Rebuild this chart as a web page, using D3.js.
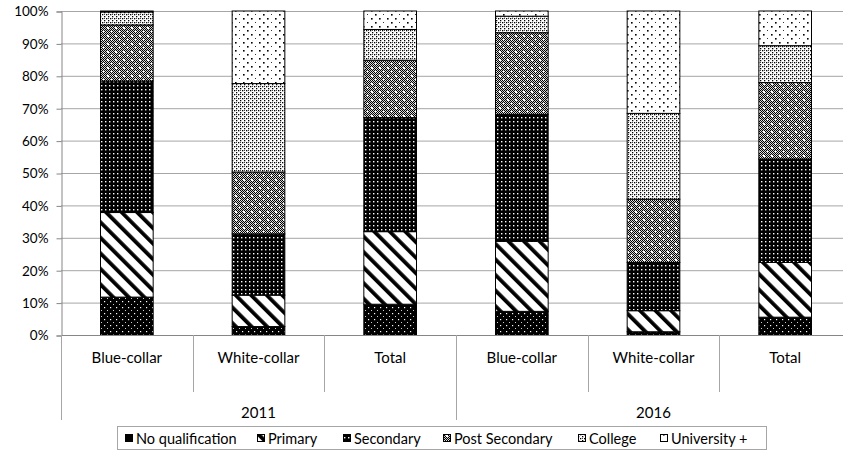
<!DOCTYPE html>
<html><head><meta charset="utf-8">
<script src="https://cdn.jsdelivr.net/npm/d3@7"></script>
<style>body{margin:0;background:#fff}svg{display:block}text{font-family:Lato,"Open Sans",sans-serif;fill:#000}</style>
</head><body><svg id="c" width="843" height="459"></svg>
<script>
const years = ["2011", "2016"];
const groups = ["Blue-collar", "White-collar", "Total"];
const series = ["No qualification", "Primary", "Secondary", "Post Secondary", "College", "University +"];
// shares in % per category (order: 2011 Blue, 2011 White, 2011 Total, 2016 Blue, 2016 White, 2016 Total)
const noQualification = [11.7, 2.6, 9.5, 7.3, 1.0, 5.5];
const primary        = [26.1, 9.7, 22.4, 21.6, 6.5, 16.9];
const secondary      = [40.6, 18.9, 35.2, 39.2, 14.9, 31.9];
const postSecondary  = [17.3, 19.1, 17.7, 25.2, 19.5, 23.6];
const college        = [4.0, 27.3, 9.5, 5.1, 26.5, 11.4];
const university     = [0.3, 22.4, 5.7, 1.6, 31.6, 10.7];
const yTicks = [0, 10, 20, 30, 40, 50, 60, 70, 80, 90, 100];

const seriesValues = [noQualification, primary, secondary, postSecondary, college, university];
const cats = [];
years.forEach(yr => groups.forEach(g => cats.push({year: yr, group: g, key: yr + "|" + g})));
const rows = cats.map((c, i) => {
  const r = {key: c.key};
  series.forEach((s, j) => r[s] = seriesValues[j][i]);
  return r;
});

const svg = d3.select("#c");
const mLeft = 61, mTop = 11, mBottom = 335, plotRight = 851;
const x = d3.scaleBand().domain(cats.map(c => c.key)).range([mLeft, plotRight]).paddingInner(0).paddingOuter(0);
const barW = x.bandwidth() * 0.4;
const y = d3.scaleLinear().domain([0, 100]).range([mBottom, mTop]);

// patterns
const defs = svg.append("defs");
const ids = ["pNoQual", "pPrimary", "pSecondary", "pPost", "pCollege", "pUniv"];
function pat(id, w, h) {
  return defs.append("pattern").attr("id", id).attr("patternUnits", "userSpaceOnUse")
    .attr("width", w).attr("height", h);
}
let p = pat(ids[0], 6, 6);
p.append("rect").attr("width", 6).attr("height", 6).attr("fill", "#000");
p.append("rect").attr("x", 2).attr("y", 1).attr("width", 1.2).attr("height", 1.2).attr("fill", "#fff");
p.append("rect").attr("x", 5).attr("y", 4).attr("width", 1).attr("height", 0.8).attr("fill", "#fff");
p = pat(ids[1], 11, 11).attr("patternTransform", "rotate(-45)");
p.append("rect").attr("width", 11).attr("height", 11).attr("fill", "#fff");
p.append("rect").attr("x", 0).attr("y", 0).attr("width", 3.8).attr("height", 11).attr("fill", "#000");
p = pat(ids[2], 4, 4);
p.append("rect").attr("width", 4).attr("height", 4).attr("fill", "#000");
p.append("rect").attr("x", 1).attr("y", 1).attr("width", 1.4).attr("height", 1.4).attr("fill", "#fff");
p = pat(ids[3], 8, 8);
p.append("rect").attr("width", 8).attr("height", 8).attr("fill", "#fff");
for (let i = 0; i < 8; i++) for (let j = 0; j < 8; j++) {
  if ((i + j) % 2 === 0) p.append("rect").attr("x", i).attr("y", j).attr("width", 1.1).attr("height", 1.1).attr("fill", "#000");
}
p.append("rect").attr("x", 3).attr("y", 3).attr("width", 2).attr("height", 2).attr("fill", "#fff");
p.append("rect").attr("x", 7).attr("y", 7).attr("width", 1).attr("height", 1).attr("fill", "#fff");
p = pat(ids[4], 4, 4);
p.append("rect").attr("width", 4).attr("height", 4).attr("fill", "#fff");
p.append("rect").attr("x", 0).attr("y", 0).attr("width", 1.3).attr("height", 1.3).attr("fill", "#000");
p.append("rect").attr("x", 2).attr("y", 2).attr("width", 1.3).attr("height", 1.3).attr("fill", "#000");
p.append("rect").attr("x", 0).attr("y", 2).attr("width", 1).attr("height", 1).attr("fill", "#444");
p = pat(ids[5], 16, 8);
p.append("rect").attr("width", 16).attr("height", 8).attr("fill", "#fff");
p.append("rect").attr("x", 3).attr("y", 2).attr("width", 1.6).attr("height", 1.6).attr("fill", "#000");
p.append("rect").attr("x", 11).attr("y", 2).attr("width", 1.6).attr("height", 1.6).attr("fill", "#000");
p.append("rect").attr("x", 7).attr("y", 6).attr("width", 1.6).attr("height", 1.6).attr("fill", "#000");
p.append("rect").attr("x", 15).attr("y", 6).attr("width", 1.4).attr("height", 0.8).attr("fill", "#000");

// gridlines
svg.append("g").selectAll("line").data(yTicks.filter(t => t > 0)).join("line")
  .attr("x1", mLeft).attr("x2", plotRight).attr("y1", d => y(d) + 0.5).attr("y2", d => y(d) + 0.5)
  .attr("stroke", "#a6a6a6").attr("stroke-width", 1);

// y axis
const yAxis = d3.axisLeft(y).tickValues(yTicks).tickFormat(d => d + "%").tickSize(5).tickPadding(8);
const ya = svg.append("g").attr("transform", `translate(${mLeft + 0.5},0.5)`).call(yAxis);
ya.select(".domain").attr("stroke", "#868686");
ya.selectAll(".tick line").attr("stroke", "#868686");
ya.selectAll(".tick text").attr("font-size", 13.5).attr("font-family", "Lato").attr("fill", "#000");

// bars
const stack = d3.stack().keys(series)(rows);
svg.append("g").selectAll("g").data(stack).join("g")
  .attr("fill", (d, i) => `url(#${ids[i]})`)
  .selectAll("rect").data(d => d).join("rect")
  .attr("x", d => x(d.data.key) + (x.bandwidth() - barW) / 2)
  .attr("width", barW)
  .attr("y", d => y(d[1]))
  .attr("height", d => y(d[0]) - y(d[1]))
  .attr("stroke", "#000").attr("stroke-width", 1);

// x axis line
svg.append("line").attr("x1", mLeft).attr("x2", plotRight).attr("y1", mBottom + 0.5).attr("y2", mBottom + 0.5)
  .attr("stroke", "#868686");

// category separators
const catEdges = cats.map(c => x(c.key)).concat([plotRight]);
svg.append("g").selectAll("line").data(catEdges).join("line")
  .attr("x1", d => Math.round(d) + 0.5).attr("x2", d => Math.round(d) + 0.5)
  .attr("y1", mBottom).attr("y2", (d, i) => (i % 3 === 0) ? 420 : 392)
  .attr("stroke", "#a6a6a6");

// category labels
svg.append("g").selectAll("text").data(cats).join("text")
  .attr("x", d => x(d.key) + x.bandwidth() / 2).attr("y", 363)
  .attr("text-anchor", "middle").attr("font-size", 15).text(d => d.group);

// year labels
svg.append("g").selectAll("text").data(years).join("text")
  .attr("x", (d, i) => x(d + "|" + groups[0]) + x.bandwidth() * 1.5).attr("y", 418)
  .attr("text-anchor", "middle").attr("font-size", 15).text(d => d);

// legend
const legX = [125, 257, 343, 443, 578, 660];
const lg = svg.append("g");
lg.append("rect").attr("x", 117.5).attr("y", 426.5).attr("width", 649).attr("height", 23)
  .attr("fill", "#fff").attr("stroke", "#a6a6a6");
const items = lg.selectAll("g").data(series).join("g")
  .attr("transform", (d, i) => `translate(${legX[i]},0)`);
items.append("rect").attr("x", 0.5).attr("y", 434.5).attr("width", 7).attr("height", 7)
  .attr("fill", (d, i) => i === 0 ? "#000" : `url(#${ids[i]})`).attr("stroke", "#000");
items.append("text").attr("x", 11).attr("y", 443.5).attr("font-size", 14.5).text(d => d);
</script></body></html>
